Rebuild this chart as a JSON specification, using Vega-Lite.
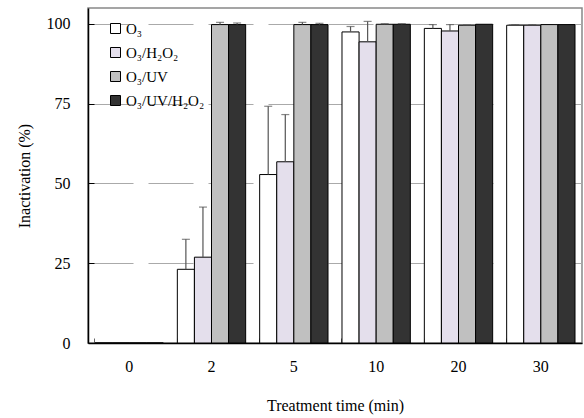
{
  "$schema": "https://vega.github.io/schema/vega-lite/v6.json",
  "width": 494,
  "height": 335,
  "autosize": "none",
  "padding": {"left": 88, "top": 8, "right": 2, "bottom": 75},
  "background": "white",
  "config": {
    "font": "Liberation Serif, Times New Roman, DejaVu Serif, serif",
    "view": {"stroke": "#888888", "strokeWidth": 1.5},
    "axis": {"labelFont": "Liberation Serif, Times New Roman, DejaVu Serif, serif", "titleFont": "Liberation Serif, Times New Roman, DejaVu Serif, serif", "labelColor": "black", "titleColor": "black", "titleFontWeight": "normal", "labelFontSize": 16, "titleFontSize": 16},
    "legend": {"labelFont": "Liberation Serif, Times New Roman, DejaVu Serif, serif"}
  },
  "data": {
    "values": [
      {"time": "0", "series": "O₃", "value": 0, "upper": 0},
      {"time": "0", "series": "O₃/H₂O₂", "value": 0, "upper": 0},
      {"time": "0", "series": "O₃/UV", "value": 0, "upper": 0},
      {"time": "0", "series": "O₃/UV/H₂O₂", "value": 0, "upper": 0},
      {"time": "2", "series": "O₃", "value": 23.1, "upper": 32.5},
      {"time": "2", "series": "O₃/H₂O₂", "value": 26.9, "upper": 42.6},
      {"time": "2", "series": "O₃/UV", "value": 99.8, "upper": 100.5},
      {"time": "2", "series": "O₃/UV/H₂O₂", "value": 99.8, "upper": 100.3},
      {"time": "5", "series": "O₃", "value": 52.8, "upper": 74.2},
      {"time": "5", "series": "O₃/H₂O₂", "value": 56.8, "upper": 71.6},
      {"time": "5", "series": "O₃/UV", "value": 99.8, "upper": 100.5},
      {"time": "5", "series": "O₃/UV/H₂O₂", "value": 99.8, "upper": 100.2},
      {"time": "10", "series": "O₃", "value": 97.5, "upper": 99.2},
      {"time": "10", "series": "O₃/H₂O₂", "value": 94.4, "upper": 100.8},
      {"time": "10", "series": "O₃/UV", "value": 99.9, "upper": 100.1},
      {"time": "10", "series": "O₃/UV/H₂O₂", "value": 99.9, "upper": 100.1},
      {"time": "20", "series": "O₃", "value": 98.6, "upper": 99.8},
      {"time": "20", "series": "O₃/H₂O₂", "value": 97.8, "upper": 99.8},
      {"time": "20", "series": "O₃/UV", "value": 99.6, "upper": 99.7},
      {"time": "20", "series": "O₃/UV/H₂O₂", "value": 99.9, "upper": 99.9},
      {"time": "30", "series": "O₃", "value": 99.6, "upper": 99.8},
      {"time": "30", "series": "O₃/H₂O₂", "value": 99.6, "upper": 99.8},
      {"time": "30", "series": "O₃/UV", "value": 99.8, "upper": 99.8},
      {"time": "30", "series": "O₃/UV/H₂O₂", "value": 99.8, "upper": 99.8}
    ]
  },
  "encoding": {
    "x": {
      "field": "time", "type": "nominal", "sort": ["0", "2", "5", "10", "20", "30"],
      "scale": {"paddingInner": 0.17, "paddingOuter": 0.085},
      "axis": {"title": "Treatment time (min)", "labelAngle": 0, "domainColor": "black", "domainWidth": 1.5, "tickColor": "#666666", "tickSize": -5, "bandPosition": 0, "labelPadding": 20, "titlePadding": 23, "grid": false}
    },
    "xOffset": {
      "field": "series", "type": "nominal", "sort": ["O₃", "O₃/H₂O₂", "O₃/UV", "O₃/UV/H₂O₂"],
      "scale": {"paddingInner": 0, "paddingOuter": 0}
    }
  },
  "layer": [
    {
      "mark": {"type": "bar", "stroke": "black", "strokeWidth": 1},
      "encoding": {
        "y": {
          "field": "value", "type": "quantitative",
          "scale": {"domain": [0, 105], "nice": false},
          "axis": {"title": "Inactivation (%)", "values": [0, 25, 50, 75, 100], "domainColor": "black", "domainWidth": 1.5, "tickColor": "black", "tickSize": -6, "labelPadding": 24, "titlePadding": 14, "grid": true, "gridColor": "#aaaaaa", "gridDash": [45, 15], "gridWidth": 1.2}
        },
        "color": {
          "field": "series", "type": "nominal", "sort": ["O₃", "O₃/H₂O₂", "O₃/UV", "O₃/UV/H₂O₂"],
          "scale": {"domain": ["O₃", "O₃/H₂O₂", "O₃/UV", "O₃/UV/H₂O₂"], "range": ["#ffffff", "#e4dfec", "#c0c0c0", "#333333"]},
          "legend": {"title": null, "orient": "none", "legendX": 20, "legendY": 13, "symbolType": "square", "symbolSize": 100, "symbolStrokeColor": "black", "symbolStrokeWidth": 1, "labelFont": "Liberation Serif, Times New Roman, DejaVu Serif, serif", "labelFontSize": 15, "labelColor": "black", "rowPadding": 8, "labelOffset": 3}
        }
      }
    },
    {
      "transform": [{"filter": "datum.upper > datum.value"}],
      "mark": {"type": "rule", "color": "#555555", "strokeWidth": 1.2},
      "encoding": {
        "y": {"field": "value", "type": "quantitative"},
        "y2": {"field": "upper"}
      }
    },
    {
      "transform": [{"filter": "datum.upper > datum.value"}],
      "mark": {"type": "tick", "color": "#555555", "thickness": 1.2, "size": 8, "orient": "horizontal"},
      "encoding": {
        "y": {"field": "upper", "type": "quantitative"}
      }
    }
  ]
}
